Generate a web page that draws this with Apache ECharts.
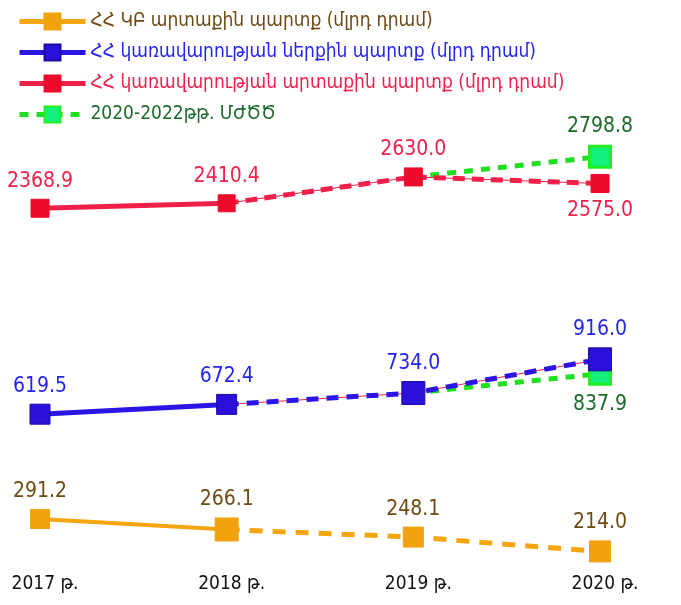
<!DOCTYPE html>
<html>
<head>
<meta charset="utf-8">
<script src="https://cdn.jsdelivr.net/npm/echarts@6/dist/echarts.min.js"></script>
<style>
  html, body { margin: 0; padding: 0; background: #fff; }
  #chart { width: 681px; height: 605px; }
</style>
</head>
<body>
<div id="chart"></div>
<script>
// tarinery
var years = ['2017 թ.', '2018 թ.', '2019 թ.', '2020 թ.'];
// ՀՀ ԿԲ արտաքին պարտք
var cbExternal = [291.2, 266.1, 248.1, 214.0];
// ՀՀ կառավարության ներքին պարտք
var govDomestic = [619.5, 672.4, 734.0, 916.0];
// ՀՀ կառավարության արտաքին պարտք
var govExternal = [2368.9, 2410.4, 2630.0, 2575.0];
// 2020-2022թթ. ՄԺԾԾ (ծրագիր)
var mtefExternal = [null, null, 2630.0, 2798.8];
var mtefDomestic = [null, null, 734.0, 837.9];

var names = [
    'ՀՀ ԿԲ արտաքին պարտք (մլրդ դրամ)',
    'ՀՀ կառավարության ներքին պարտք (մլրդ դրամ)',
    'ՀՀ կառավարության արտաքին պարտք (մլրդ դրամ)',
    '2020-2022թթ. ՄԺԾԾ'
];

var font = "'Liberation Sans Narrow', 'DejaVu Sans Condensed', 'Liberation Sans', sans-serif";

function fmt(p) { return p.value.toFixed(1) }

function solid(arr) { return arr.map(function (v, i) { return i <= 1 ? v : '-' }) }
function dashed(arr) {
    return arr.map(function (v, i) {
        if (i < 1) return '-';
        if (i == 1) return { value: v, symbol: 'none', label: { show: false } };
        return v;
    })
}

// one group = solid part (in legend) + dashed part + optional thin red line
function group(opt) {
    var list = [];
    list.push({
        name: opt.name,
        type: 'line',
        yAxisIndex: opt.axis,
        z: 5,
        data: solid(opt.data),
        symbol: 'rect',
        symbolSize: function (v, p) { return opt.sizes[p.dataIndex] },
        lineStyle: { color: opt.color, width: opt.width },
        itemStyle: { color: opt.marker, borderColor: opt.border || opt.marker, borderWidth: 1 },
        label: {
            show: true, position: 'top', distance: 7, formatter: fmt,
            color: opt.labelColor, fontSize: 21, fontFamily: font
        },
        animation: false
    });
    list.push({
        name: opt.name + '_d',
        type: 'line',
        yAxisIndex: opt.axis,
        z: 3,
        data: dashed(opt.data),
        symbol: 'rect',
        symbolSize: function (v, p) { return opt.sizes[p.dataIndex] },
        lineStyle: { color: opt.color, width: 5, type: opt.dash },
        itemStyle: { color: opt.marker, borderColor: opt.border || opt.marker, borderWidth: 1 },
        label: {
            show: true, position: 'top', distance: 7, formatter: fmt,
            color: opt.labelColor, fontSize: 21, fontFamily: font
        },
        animation: false
    });
    if (opt.lastBelow) {
        // label under the last point
        list[1].data[3] = { value: opt.data[3], label: { position: 'bottom' } };
    }
    if (opt.thin) {
        list.push({
            name: opt.name + '_t',
            type: 'line',
            yAxisIndex: opt.axis,
            z: 2,
            data: dashed(opt.data).map(function (d) { return typeof d == 'object' ? d.value : d }),
            symbol: 'none',
            lineStyle: { color: '#f0204a', width: 1 },
            animation: false
        });
    }
    return list;
}

function greenSeries(arr, axis) {
    return {
        name: names[3],
        type: 'line',
        yAxisIndex: axis,
        z: 1,
        data: arr.map(function (v, i) {
            if (v == null) return '-';
            if (i == 2) return { value: v, symbol: 'none', label: { show: false } };
            return v;
        }),
        symbol: 'rect',
        symbolSize: 21,
        lineStyle: { color: '#1ee01e', width: 5, type: [9, 8] },
        itemStyle: { color: '#14f07c', borderColor: '#22ee22', borderWidth: 3 },
        label: {
            show: true, position: axis == 1 ? 'bottom' : 'top', distance: 8, formatter: fmt,
            color: '#1a6a2a', fontSize: 21, fontFamily: font
        },
        animation: false
    };
}

var series = [];
series = series.concat(group({
    name: names[0], axis: 2, data: cbExternal, color: '#f5a50d', marker: '#f2a20f',
    labelColor: '#6e4b12', width: 4, dash: [13, 10], sizes: [19, 23, 20, 21]
}));
series = series.concat(group({
    name: names[1], axis: 1, data: govDomestic, color: '#2a14e6', marker: '#2a10d8', border: '#1c0aa8',
    labelColor: '#2424ee', width: 5, dash: [12, 8], sizes: [20, 20, 23, 23], thin: true
}));
series = series.concat(group({
    name: names[2], axis: 0, data: govExternal, color: '#f0204a', marker: '#ee0a2a',
    labelColor: '#f0204c', width: 5, dash: [12, 7], sizes: [18, 17, 18, 18], thin: true, lastBelow: true
}));
series.push(greenSeries(mtefExternal, 0));
series.push(greenSeries(mtefDomestic, 1));

var legendColors = ['#6e4b12', '#2424ee', '#f0204c', '#1a6a2a'];

var chart = echarts.init(document.getElementById('chart'));
chart.setOption({
    backgroundColor: '#ffffff',
    animation: false,
    legend: {
        orient: 'vertical',
        left: 12,
        top: 7,
        itemWidth: 66,
        itemHeight: 20,
        itemGap: 12,
        lineStyle: { width: 5 },
        data: names.map(function (n, i) {
            return { name: n, textStyle: { color: legendColors[i] } }
        }),
        textStyle: { fontSize: 19, fontFamily: font }
    },
    grid: { left: 40, right: 81, top: 100, height: 465 },
    xAxis: {
        type: 'category',
        data: years,
        boundaryGap: false,
        axisLine: { show: false },
        axisTick: { show: false },
        axisLabel: { color: '#111', fontSize: 19, fontFamily: font, margin: 10, padding: [0, 0, 0, 10] }
    },
    yAxis: [
        { type: 'value', show: false, min: -603.9, max: 3271.1 },
        { type: 'value', show: false, min: -195.7, max: 2317.8 },
        { type: 'value', show: false, min: 181.6, max: 1288.8 }
    ],
    series: series
});
</script>
</body>
</html>
